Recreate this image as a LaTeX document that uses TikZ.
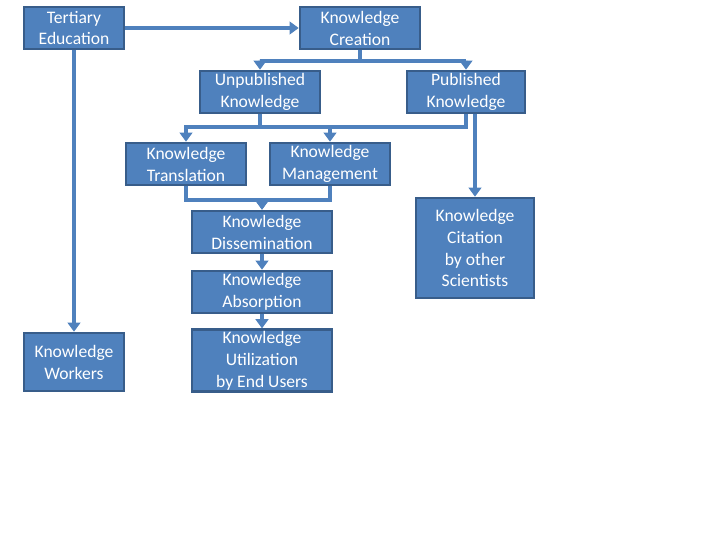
\documentclass[tikz,border=0pt]{standalone}
\usepackage{fontspec}
\setmainfont{Carlito}
\usetikzlibrary{arrows.meta, calc, positioning}
\definecolor{boxblue}{HTML}{4F81BD}
\definecolor{boxedge}{HTML}{385D8A}
\tikzset{
  kbox/.style={rectangle, draw=boxedge, fill=boxblue, line width=1.8pt,
    minimum width=3cm, minimum height=1.05cm, inner sep=1pt,
    font=\fontsize{12.5}{15.6}\selectfont, text=white, align=center},
  flow/.style={-{Triangle[width=9pt,length=6.5pt]}, draw=boxblue, line width=2.6pt},
  link/.style={draw=boxblue, line width=2.6pt}
}

\begin{document}
\begin{tikzpicture}[x=0.025cm, y=-0.025cm]
\useasboundingbox (0,0) rectangle (720,540);

%% Top row
\node[kbox, minimum width=2.5cm] (tert)   at (74, 28)  {Tertiary\\Education};
\node[kbox]                      (create) at (360, 28) {Knowledge\\Creation};

%% Published / unpublished
\node[kbox] (unpub) at (260, 92) {Unpublished\\Knowledge};
\node[kbox, minimum width=2.95cm] (pub) at (466, 92) {Published\\Knowledge};

%% Translation / management
\node[kbox] (trans) at (186, 164) {Knowledge\\Translation};
\node[kbox] (mgmt)  at (330, 164) {Knowledge\\Management};

%% Chain to end users
\node[kbox, minimum width=3.5cm] (diss)  at (262, 232) {Knowledge\\Dissemination};
\node[kbox, minimum width=3.5cm] (absorb) at (262, 292) {Knowledge\\Absorption};
\node[kbox, minimum width=3.5cm, minimum height=1.5cm] (util) at (262, 360.5) {Knowledge\\Utilization\\by End Users};

%% Side boxes
\node[kbox, minimum width=2.5cm, minimum height=1.45cm] (workers) at (74, 362) {Knowledge\\Workers};
\node[kbox, minimum width=2.95cm, minimum height=2.5cm] (cite) at (475, 248) {Knowledge\\Citation\\by other\\Scientists};

%% ── Tertiary Education
\draw[flow] (tert.east) -- (create.west);
\draw[flow] (tert.south) -- (workers.north);

%% ── Creation → Unpublished / Published
\draw[flow] (create.south) -- ++(0,11) -| (unpub.north);
\draw[flow] (create.south) -- ++(0,11) -| (pub.north);

%% ── Unpublished / Published → Translation / Management
\draw[flow] (unpub.south) -- ++(0,13) -| (trans.north);
\draw[flow] (unpub.south) -- ++(0,13) -| (mgmt.north);
\draw[link] (pub.south) -- ++(0,13) -| (unpub.south);
\draw[flow] (pub.south -| cite.north) -- (cite.north);

%% ── Translation / Management → Dissemination
\draw[flow] (trans.south) -- ++(0,14) -| (diss.north);
\draw[flow] (mgmt.south) -- ++(0,14) -| (diss.north);

%% ── Dissemination → Absorption → Utilization
\draw[flow] (diss.south) -- (absorb.north);
\draw[flow] (absorb.south) -- (util.north);

\end{tikzpicture}
\end{document}
